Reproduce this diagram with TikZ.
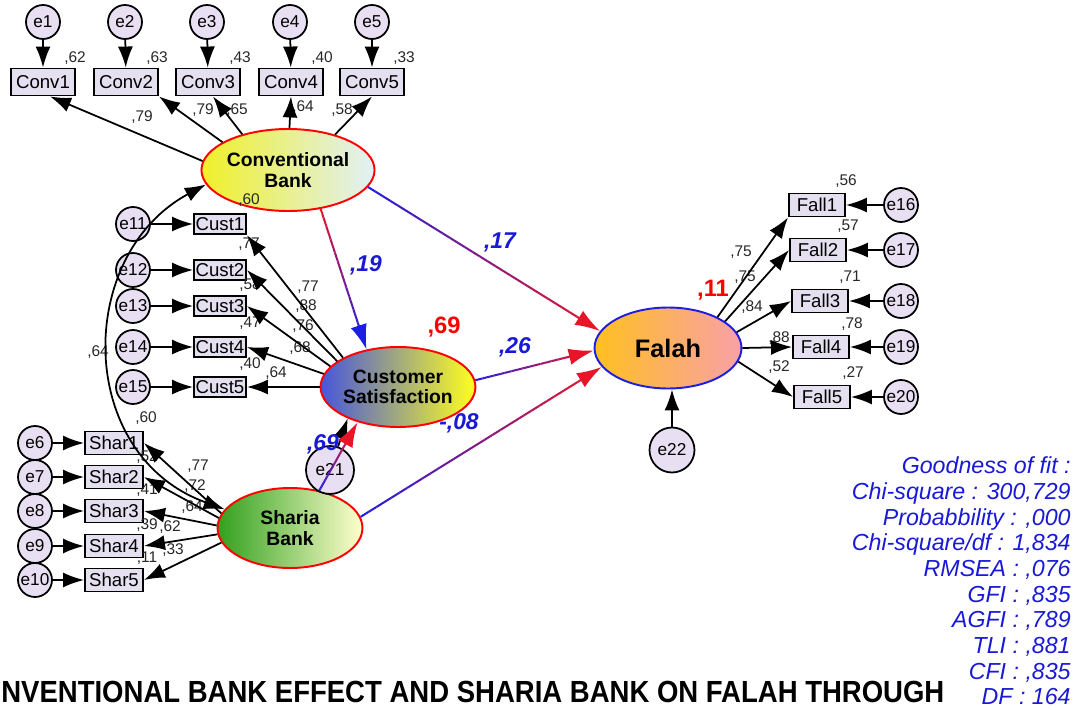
\documentclass[tikz,border=0pt]{standalone}
\usepackage{fontspec}
\usepackage{graphicx}
\setmainfont{Liberation Sans}
\usetikzlibrary{shapes.geometric,arrows.meta,calc}

\definecolor{errfill}{RGB}{232,224,242}
\definecolor{boxfill}{RGB}{228,224,240}
\definecolor{pathblue}{RGB}{30,30,225}
\definecolor{pathred}{RGB}{232,20,40}
\definecolor{txtblue}{RGB}{25,25,215}
\definecolor{lblgray}{RGB}{40,40,40}
\definecolor{cbL}{RGB}{240,240,40}
\definecolor{cbR}{RGB}{225,240,248}
\definecolor{csL}{RGB}{70,85,220}
\definecolor{csR}{RGB}{255,255,30}
\definecolor{sbL}{RGB}{50,160,30}
\definecolor{sbR}{RGB}{255,255,205}
\definecolor{faL}{RGB}{255,192,32}
\definecolor{faR}{RGB}{248,160,168}

\tikzset{
  err/.style={circle, draw=black, line width=1pt, fill=errfill, minimum size=6.8mm,
    inner sep=0pt, font=\fontsize{9.8}{10}\selectfont},
  bigerr/.style={err, minimum size=9.4mm},
  obs/.style={rectangle, draw=black, line width=1.1pt, fill=boxfill, inner sep=0pt,
    font=\fontsize{10.6}{11}\selectfont},
  convbox/.style={obs, minimum width=12.8mm, minimum height=5.4mm},
  custbox/.style={obs, minimum width=10.4mm, minimum height=4.1mm},
  sharbox/.style={obs, minimum width=11.6mm, minimum height=4.6mm},
  fallbox/.style={obs, minimum width=11.2mm, minimum height=4.6mm},
  lat/.style={ellipse, draw=red, line width=1.1pt, inner sep=0pt, align=center,
    font=\fontsize{11}{11.6}\selectfont\bfseries},
  arr/.style={line width=1pt, -{Latex[length=4.2mm,width=3mm]}},
  pathtip/.style={line width=1.15pt, -{Latex[length=5mm,width=3.3mm]}},
  num/.style={font=\fontsize{8.8}{9}\selectfont, text=lblgray, inner sep=0pt},
  coef/.style={font=\fontsize{13}{14}\selectfont\bfseries\itshape, text=txtblue, inner sep=0pt},
  rsq/.style={font=\fontsize{13.5}{14}\selectfont\bfseries, text=red, inner sep=0pt},
}

% structural path whose colour runs from #3 to #4, ending in an arrow tip
\newcommand{\gradarrow}[4]{%
  \coordinate (gend) at ($(#2)!2mm!(#1)$);
  \foreach \k in {0,...,29}{%
    \pgfmathsetmacro{\fa}{\k/30}%
    \pgfmathsetmacro{\fb}{(\k+1)/30}%
    \pgfmathtruncatemacro{\mix}{100*(\k+0.5)/30}%
    \draw[line width=1.15pt, color=#4!\mix!#3] ($(#1)!\fa!(gend)$) -- ($(#1)!\fb!(gend)$);
  }%
  \draw[pathtip, color=#4] ($(#2)!5mm!(#1)$) -- (#2);
}

\begin{document}
\begin{tikzpicture}[x=0.02cm,y=-0.02cm]
\useasboundingbox (0,0) rectangle (1080,710);
\fill[white] (0,0) rectangle (1080,710);

% ---------- latent variables ----------
\node[lat, minimum width=28.4mm, minimum height=16.4mm, left color=cbL, right color=cbR] (CB) at (288,170) {Conventional\\Bank};
\node[lat, minimum width=29.2mm, minimum height=16mm, left color=csL, right color=csR] (CS) at (398,387) {Customer\\Satisfaction};
\node[lat, minimum width=29mm, minimum height=16mm, left color=sbL, right color=sbR] (SB) at (290,528) {Sharia\\Bank};
\node[lat, draw=pathblue, minimum width=29.4mm, minimum height=16.2mm, left color=faL, right color=faR,
  font=\fontsize{14.4}{15}\selectfont\bfseries] (Fa) at (668,348) {Falah};

% ---------- Conventional Bank indicators ----------
\node[err] (e1) at (43,22) {e1};
\node[err] (e2) at (125,22) {e2};
\node[err] (e3) at (207,22) {e3};
\node[err] (e4) at (290,22) {e4};
\node[err] (e5) at (372,22) {e5};
\node[convbox] (c1) at (43,82) {Conv1};
\node[convbox] (c2) at (126,82) {Conv2};
\node[convbox] (c3) at (208,82) {Conv3};
\node[convbox] (c4) at (291,82) {Conv4};
\node[convbox] (c5) at (372,82) {Conv5};

% ---------- Customer Satisfaction indicators ----------
\node[err] (e11) at (133,224) {e11};
\node[err] (e12) at (133,270) {e12};
\node[err] (e13) at (133,306) {e13};
\node[err] (e14) at (133,347) {e14};
\node[err] (e15) at (133,387) {e15};
\node[custbox] (u1) at (220,224) {Cust1};
\node[custbox] (u2) at (220,270) {Cust2};
\node[custbox] (u3) at (220,306) {Cust3};
\node[custbox] (u4) at (220,347) {Cust4};
\node[custbox] (u5) at (220,387) {Cust5};

% ---------- Sharia Bank indicators ----------
\node[err] (e6) at (35,443) {e6};
\node[err] (e7) at (35,477) {e7};
\node[err] (e8) at (35,511) {e8};
\node[err] (e9) at (35,546) {e9};
\node[err] (e10) at (35,580) {e10};
\node[sharbox] (s1) at (114,443) {Shar1};
\node[sharbox] (s2) at (114,477) {Shar2};
\node[sharbox] (s3) at (114,511) {Shar3};
\node[sharbox] (s4) at (114,546) {Shar4};
\node[sharbox] (s5) at (114,580) {Shar5};

% ---------- Falah indicators ----------
\node[fallbox] (f1) at (817,205) {Fall1};
\node[fallbox] (f2) at (818,250) {Fall2};
\node[fallbox] (f3) at (820,301) {Fall3};
\node[fallbox] (f4) at (821,347) {Fall4};
\node[fallbox] (f5) at (822,397) {Fall5};
\node[err] (e16) at (901,205) {e16};
\node[err] (e17) at (901,250) {e17};
\node[err] (e18) at (901,301) {e18};
\node[err] (e19) at (901,347) {e19};
\node[err] (e20) at (901,397) {e20};

% disturbances
\node[bigerr, minimum size=9.6mm] (e21) at (330,470) {e21};
\node[bigerr, minimum size=9mm] (e22) at (672,450) {e22};

% ---------- estimates ----------
\node[num] (rc1) at (75,58) {,62};
\node[num] (rc2) at (157,58) {,63};
\node[num] (rc3) at (240,58) {,43};
\node[num] (rc4) at (322,58) {,40};
\node[num] (rc5) at (404,58) {,33};
\node[num] (lc1) at (142,117) {,79};
\node[num] (lc2) at (203,110) {,79};
\node[num] (lc3) at (237,110) {,65};
\node[num] (lc4) at (303,107) {,64};
\node[num] (lc5) at (342,110) {,58};

\node[num] (ru1) at (249,200) {,60};
\node[num] (ru2) at (249,244) {,77};
\node[num] (ru3) at (250,285) {,58};
\node[num] (ru4) at (250,323) {,47};
\node[num] (ru5) at (250,364) {,40};
\node[num] (lu1) at (308,287) {,77};
\node[num] (lu2) at (306,306) {,88};
\node[num] (lu3) at (303,326) {,76};
\node[num] (lu4) at (300,348) {,68};
\node[num] (lu5) at (276,373) {,64};

\node[num] (rs1) at (146,418) {,60};
\node[num] (rs2) at (147,457) {,52};
\node[num] (rs3) at (147,490) {,41};
\node[num] (rs4) at (147,525) {,39};
\node[num] (rs5) at (147,558) {,11};
\node[num] (ls1) at (198,466) {,77};
\node[num] (ls2) at (195,486) {,72};
\node[num] (ls3) at (192,507) {,64};
\node[num] (ls4) at (170,527) {,62};
\node[num] (ls5) at (173,550) {,33};

\node[num] (rf1) at (846,181) {,56};
\node[num] (rf2) at (848,226) {,57};
\node[num] (rf3) at (850,277) {,71};
\node[num] (rf4) at (852,324) {,78};
\node[num] (rf5) at (853,373) {,27};
\node[num] (lf1) at (741,252) {,75};
\node[num] (lf2) at (745,277) {,75};
\node[num] (lf3) at (752,307) {,84};
\node[num] (lf4) at (779,338) {,88};
\node[num] (lf5) at (779,367) {,52};

\node[num] (cov) at (98,352) {,64};

% ---------- measurement arrows ----------
\draw[arr] (e1) -- (c1);
\draw[arr] (e2) -- (c2);
\draw[arr] (e3) -- (c3);
\draw[arr] (e4) -- (c4);
\draw[arr] (e5) -- (c5);
\draw[arr] (CB.174) -- ([xshift=1.4mm]c1.south);
\draw[arr] (CB.157) -- (c2.south east);
\draw[arr] (CB.142) -- ([xshift=1mm]c3.south);
\draw[arr] (CB.88) -- (c4.south);
\draw[arr] (CB.37) -- (c5.south);

\draw[arr] (e11) -- (u1);
\draw[arr] (e12) -- (u2);
\draw[arr] (e13) -- (u3);
\draw[arr] (e14) -- (u4);
\draw[arr] (e15) -- (u5);
\draw[arr] (CS.152) -- (u1.south east);
\draw[arr] (CS.157) -- (u2.east);
\draw[arr] (CS.163) -- (u3.east);
\draw[arr] (CS.170) -- (u4.east);
\draw[arr] (CS.west) -- (u5.east);

\draw[arr] (e6) -- (s1);
\draw[arr] (e7) -- (s2);
\draw[arr] (e8) -- (s3);
\draw[arr] (e9) -- (s4);
\draw[arr] (e10) -- (s5);
\draw[arr] (SB.168) -- (s1.east);
\draw[arr] (SB.172) -- (s2.east);
\draw[arr] (SB.178) -- (s3.east);
\draw[arr] (SB.185) -- (s4.east);
\draw[arr] (SB.192) -- (s5.east);

\draw[arr] (e16) -- (f1);
\draw[arr] (e17) -- (f2);
\draw[arr] (e18) -- (f3);
\draw[arr] (e19) -- (f4);
\draw[arr] (e20) -- (f5);
\draw[arr] (Fa.32) -- (f1.south west);
\draw[arr] (Fa.25) -- (f2.west);
\draw[arr] (Fa.13) -- (f3.west);
\draw[arr] (Fa.east) -- (f4.west);
\draw[arr] (Fa.-11) -- (f5.west);

\draw[arr] (e22.north) -- (e22.north |- Fa.south);
\draw[arr] (e21) -- (CS.212);

% covariance between the two banks
\draw[line width=1pt, {Latex[length=4.2mm,width=3mm]}-{Latex[length=4.2mm,width=3mm]}]
  (SB.164) .. controls (75,455) and (75,255) .. (CB.190);

% ---------- structural paths ----------
\gradarrow{CB.-50}{CS.130}{pathred}{pathblue}
\gradarrow{CB.-12}{Fa.166}{pathblue}{pathred}
\gradarrow{CS.5}{Fa.182}{pathblue}{pathred}
\gradarrow{SB.9}{Fa.196}{pathblue}{pathred}
\gradarrow{SB.52}{CS.221}{pathblue}{pathred}

\node[coef] (k1) at (366,265) {,19};
\node[coef] (k2) at (500,242) {,17};
\node[coef] (k3) at (515,347) {,26};
\node[coef] (k4) at (459,423) {-,08};
\node[coef] (k5) at (323,444) {,69};
\node[rsq] (q1) at (444,327) {,69};
\node[rsq] (q2) at (713,290) {,11};

% ---------- fit indices ----------
\node[font=\fontsize{13.2}{14.63}\selectfont\itshape, text=txtblue, align=right, anchor=east, inner sep=0pt]
  (fit) at (1071,581) {Goodness of fit :\\Chi-square : 300,729\\Probabbility : ,000\\Chi-square/df : 1,834\\RMSEA : ,076\\GFI : ,835\\AGFI : ,789\\TLI : ,881\\CFI : ,835\\DF : 164};

% ---------- title ----------
\node[anchor=west, inner sep=0pt, font=\fontsize{17.4}{20}\selectfont\bfseries] (title) at (1,692)
  {\scalebox{0.9}[1]{NVENTIONAL BANK EFFECT AND SHARIA BANK ON FALAH THROUGH}};
\end{tikzpicture}
\end{document}
